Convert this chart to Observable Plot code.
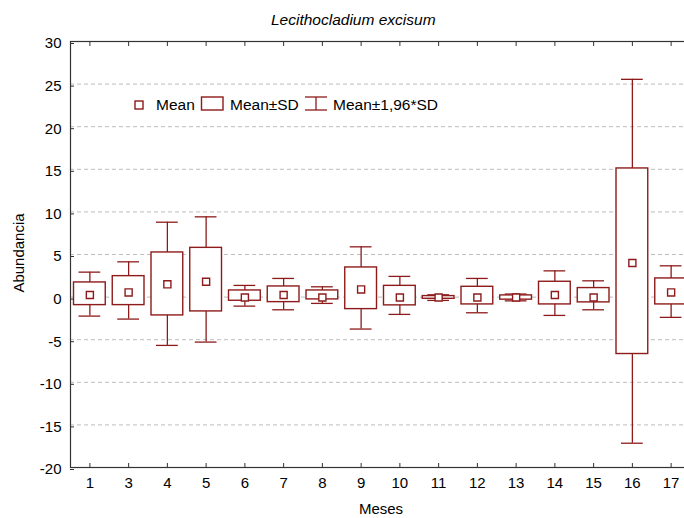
<!DOCTYPE html>
<html>
<head>
<meta charset="utf-8">
<script src="https://cdn.jsdelivr.net/npm/d3@7"></script>
<script src="https://cdn.jsdelivr.net/npm/@observablehq/plot@0.6"></script>
<style>
  html, body { margin: 0; padding: 0; background: #fff; }
  body { width: 684px; height: 518px; overflow: hidden; position: relative;
         font-family: "Liberation Sans", Arial, sans-serif; color: #000; }
  #chart { position: absolute; left: 0; top: 0; width: 700px; height: 518px; }
  #chart svg { max-width: none !important; width: 700px !important; height: 518px !important; }
  .ov { position: absolute; white-space: nowrap; font-size: 15px; }
</style>
</head>
<body>
<div id="chart"></div>
<div class="ov" id="title" style="left:271px; top:11px; font-style:italic; font-size:15.5px;">Lecithocladium excisum</div>
<div class="ov" style="left:381px; top:500px; transform:translateX(-50%);">Meses</div>
<div class="ov" style="left:18px; top:253px; transform:translate(-50%,-50%) rotate(-90deg);">Abundancia</div>
<svg id="legend" width="684" height="518" style="position:absolute;left:0;top:0;pointer-events:none;"></svg>
<script>
// Categories (months) and values
const cats  = ["1","3","4","5","6","7","8","9","10","11","12","13","14","15","16","17"];
const mean  = [0.25, 0.55, 1.5, 1.8, -0.05, 0.25, -0.05, 0.9, -0.05, -0.05, -0.05, -0.05, 0.25, -0.05, 4.0, 0.55];
const sdHi  = [1.72, 2.46, 5.24, 5.78, 0.78, 1.25, 0.78, 3.48, 1.32, 0.12, 1.21, 0.2, 1.8, 1.06, 15.1, 2.19];
const sdLo  = [-0.94, -0.94, -2.15, -1.68, -0.43, -0.59, -0.27, -1.41, -0.97, -0.2, -0.86, -0.3, -0.86, -0.62, -6.68, -0.86];
const ciHi  = [2.93, 4.14, 8.79, 9.42, 1.37, 2.19, 1.21, 5.9, 2.43, 0.27, 2.19, 0.36, 3.08, 1.91, 25.56, 3.67];
const ciLo  = [-2.23, -2.58, -5.67, -5.28, -1.06, -1.49, -0.74, -3.75, -2.03, -0.39, -1.84, -0.44, -2.15, -1.49, -17.15, -2.38];
const yTicks = [-20, -15, -10, -5, 0, 5, 10, 15, 20, 25, 30];
const gridVals = [-15, -10, -5, 0, 5, 10, 15, 20, 25];

const rows = cats.map((c, i) => ({cat: c, mean: mean[i], sdHi: sdHi[i], sdLo: sdLo[i], ciHi: ciHi[i], ciLo: ciLo[i]}));
const red = "#8e1b1b";

const chart = Plot.plot({
  width: 700,
  height: 518,
  marginLeft: 70,
  marginRight: 10,
  marginTop: 41,
  marginBottom: 51,
  style: {fontFamily: "'Liberation Sans', Arial, sans-serif", fontSize: "15px", color: "#000", background: "white", maxWidth: "none"},
  x: {type: "band", domain: cats, padding: 0, round: false},
  y: {domain: [-20, 30]},
  marks: [
    Plot.ruleY(gridVals, {stroke: "#bdbdbd", strokeDasharray: "4,3", strokeWidth: 1}),
    Plot.ruleX(rows, {x: "cat", y1: "ciLo", y2: "ciHi", stroke: red, strokeWidth: 1.3}),
    Plot.tickY(rows, {x: "cat", y: "ciHi", stroke: red, strokeWidth: 1.3, insetLeft: 8.5, insetRight: 8.5}),
    Plot.tickY(rows, {x: "cat", y: "ciLo", stroke: red, strokeWidth: 1.3, insetLeft: 8.5, insetRight: 8.5}),
    Plot.barY(rows, {x: "cat", y1: "sdLo", y2: "sdHi", fill: "white", stroke: red, strokeWidth: 1.4, insetLeft: 3.5, insetRight: 3.5}),
    Plot.dot(rows, {x: "cat", y: "mean", symbol: "square", r: 4, fill: "white", stroke: red, strokeWidth: 1.4}),
    Plot.frame({stroke: "#333", strokeWidth: 1.2}),
    Plot.axisY(yTicks, {tickSize: -4, tickPadding: 13, dy: 2, label: null, tickFormat: d => String(d), stroke: "#333"}),
    Plot.axisX({anchor: "bottom", tickSize: -4, tickPadding: 14, label: null, stroke: "#333"}),
    Plot.axisX({anchor: "top", tickSize: -4, label: null, tickFormat: () => "", stroke: "#333"})
  ]
});
document.getElementById("chart").appendChild(chart);

// Legend (decoration)
const lg = d3.select("#legend");
const ly = 105;
lg.append("rect").attr("x", 135).attr("y", ly - 4).attr("width", 8).attr("height", 8)
  .attr("fill", "white").attr("stroke", red).attr("stroke-width", 1.4);
lg.append("text").attr("x", 156).attr("y", ly + 4.5).attr("font-size", 15.5).text("Mean");
lg.append("rect").attr("x", 201.5).attr("y", ly - 8).attr("width", 21.5).attr("height", 13)
  .attr("fill", "white").attr("stroke", red).attr("stroke-width", 1.4);
lg.append("text").attr("x", 230).attr("y", ly + 4.5).attr("font-size", 15.5).text("Mean±SD");
const ix = 316;
lg.append("line").attr("x1", ix - 11).attr("x2", ix + 11).attr("y1", ly - 8).attr("y2", ly - 8).attr("stroke", red).attr("stroke-width", 1.3);
lg.append("line").attr("x1", ix - 11).attr("x2", ix + 11).attr("y1", ly + 5).attr("y2", ly + 5).attr("stroke", red).attr("stroke-width", 1.3);
lg.append("line").attr("x1", ix).attr("x2", ix).attr("y1", ly - 8).attr("y2", ly + 5).attr("stroke", red).attr("stroke-width", 1.3);
lg.append("text").attr("x", 333).attr("y", ly + 4.5).attr("font-size", 15.5).text("Mean±1,96*SD");
lg.selectAll("text").attr("font-family", "'Liberation Sans', Arial, sans-serif").attr("fill", "#000");
</script>
</body>
</html>
